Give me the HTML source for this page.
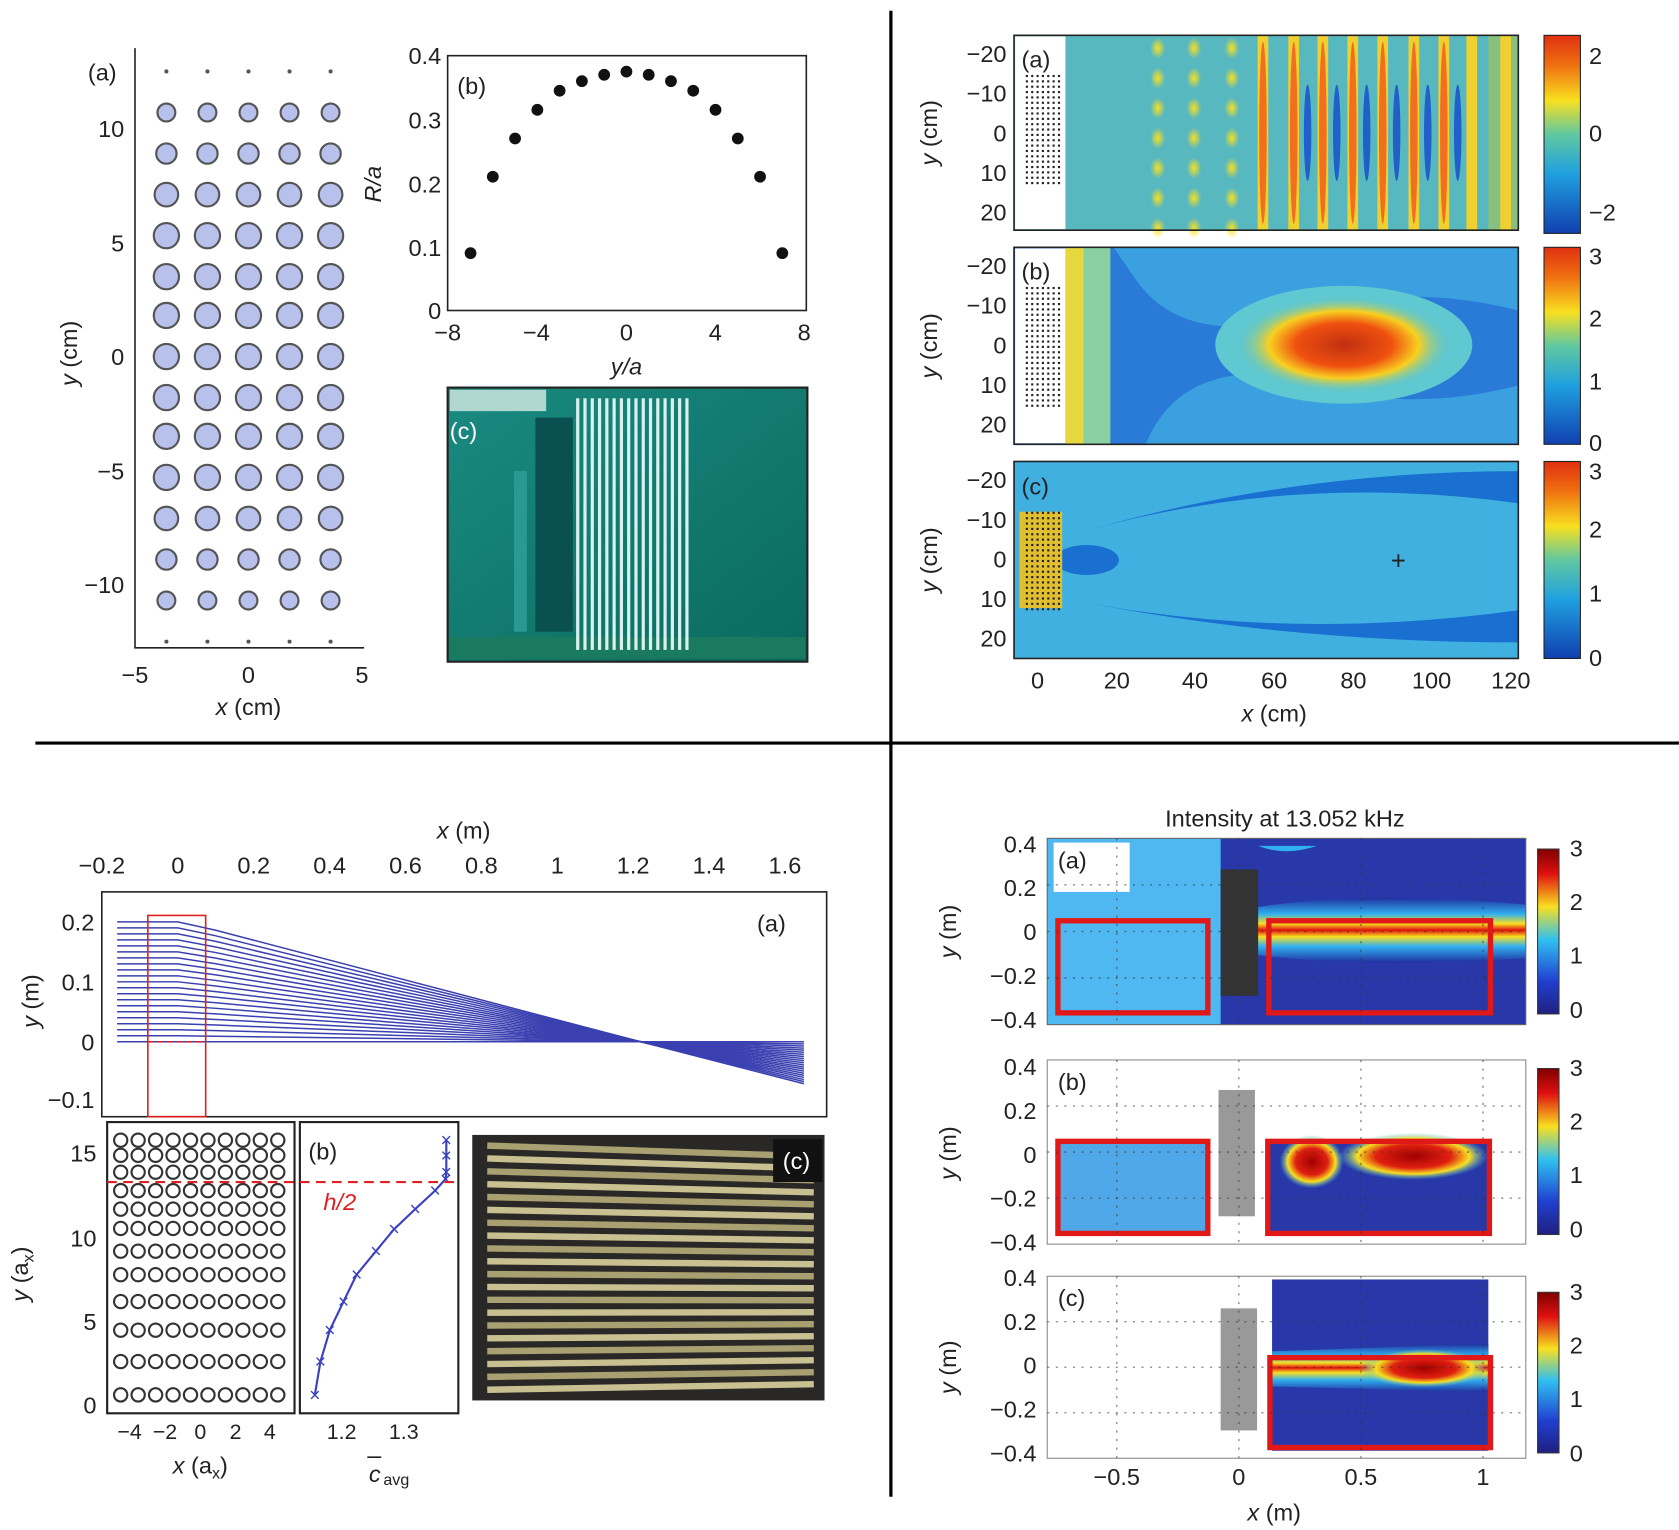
<!DOCTYPE html>
<html><head><meta charset="utf-8"><style>
html,body{margin:0;padding:0;background:#fff}
svg{display:block}
text{font-family:"Liberation Sans",sans-serif;fill:#222}
</style></head><body>
<svg id="fig" width="1679" height="1530" viewBox="0 0 1568 1429" xmlns="http://www.w3.org/2000/svg">
<defs>
<linearGradient id="jet" x1="0" y1="0" x2="0" y2="1">
<stop offset="0" stop-color="#e03010"/><stop offset="0.15" stop-color="#f07010"/><stop offset="0.33" stop-color="#f8e020"/><stop offset="0.5" stop-color="#60c8a0"/><stop offset="0.7" stop-color="#20a0e0"/><stop offset="1" stop-color="#1040b0"/></linearGradient>
<linearGradient id="jet2" x1="0" y1="0" x2="0" y2="1">
<stop offset="0" stop-color="#800000"/><stop offset="0.15" stop-color="#e01010"/><stop offset="0.35" stop-color="#f8e020"/><stop offset="0.55" stop-color="#30c0f0"/><stop offset="0.8" stop-color="#2040d0"/><stop offset="1" stop-color="#202080"/></linearGradient>
<radialGradient id="blob" cx="0.5" cy="0.5" r="0.5"><stop offset="0" stop-color="#c03010"/><stop offset="0.45" stop-color="#f05010"/><stop offset="0.7" stop-color="#f8d020"/><stop offset="1" stop-color="#60c8c0" stop-opacity="0"/></radialGradient>
<linearGradient id="beam" x1="0" y1="0" x2="0" y2="1"><stop offset="0" stop-color="#2030a0"/><stop offset="0.25" stop-color="#30b0f0"/><stop offset="0.4" stop-color="#f8e020"/><stop offset="0.5" stop-color="#e01010"/><stop offset="0.6" stop-color="#f8e020"/><stop offset="0.75" stop-color="#30b0f0"/><stop offset="1" stop-color="#2030a0"/></linearGradient>
<radialGradient id="redblob" cx="0.5" cy="0.5" r="0.5"><stop offset="0" stop-color="#a00000"/><stop offset="0.5" stop-color="#e02010"/><stop offset="0.75" stop-color="#f8e020"/><stop offset="1" stop-color="#40c0f0" stop-opacity="0"/></radialGradient>
<radialGradient id="ydot" cx="0.5" cy="0.5" r="0.5"><stop offset="0" stop-color="#f8e020"/><stop offset="1" stop-color="#f8e020" stop-opacity="0"/></radialGradient>
<linearGradient id="teal" x1="0" y1="0" x2="1" y2="1"><stop offset="0" stop-color="#1a8a80"/><stop offset="1" stop-color="#0a6a60"/></linearGradient>
</defs>

<!-- dividers -->
<line x1="832" y1="10" x2="832" y2="1398" stroke="#000" stroke-width="3"/>
<line x1="33" y1="694" x2="1568" y2="694" stroke="#000" stroke-width="3"/>

<!-- TL (a) -->
<g id="tla">
<polyline points="126,45 126,605 340,605" fill="none" stroke="#222" stroke-width="1.5"/>
<text x="82" y="75" font-size="22">(a)</text>
<g font-size="22" text-anchor="end">
<text x="116" y="128">10</text><text x="116" y="235">5</text><text x="116" y="341">0</text><text x="116" y="448">−5</text><text x="116" y="554">−10</text></g>
<g font-size="22" text-anchor="middle"><text x="126" y="638">−5</text><text x="232" y="638">0</text><text x="338" y="638">5</text></g>
<text x="232" y="668" font-size="22" text-anchor="middle"><tspan font-style="italic">x</tspan> (cm)</text>
<text transform="translate(72,330) rotate(-90)" font-size="22" text-anchor="middle"><tspan font-style="italic">y</tspan> (cm)</text>
</g>

<!-- TL (b) -->
<g id="tlb">
<rect x="418" y="52" width="335" height="238" fill="none" stroke="#222" stroke-width="1.5"/>
<text x="427" y="88" font-size="22">(b)</text>
<g font-size="22" text-anchor="end"><text x="412" y="60">0.4</text><text x="412" y="120">0.3</text><text x="412" y="180">0.2</text><text x="412" y="239">0.1</text><text x="412" y="298">0</text></g>
<g font-size="22" text-anchor="middle"><text x="418" y="318">−8</text><text x="501" y="318">−4</text><text x="585" y="318">0</text><text x="668" y="318">4</text><text x="751" y="318">8</text></g>
<text x="585" y="350" font-size="22" text-anchor="middle" font-style="italic">y/a</text>
<text transform="translate(356,172) rotate(-90)" font-size="22" text-anchor="middle" font-style="italic">R/a</text>
</g>

<!-- TL (c) photo -->
<g>
<rect x="418" y="362" width="336" height="256" fill="url(#teal)" stroke="#222" stroke-width="2"/>
<rect x="420" y="364" width="90" height="20" fill="#b0d8d0"/>
<rect x="500" y="390" width="35" height="200" fill="#0a5050"/>
<rect x="480" y="440" width="12" height="150" fill="#2a9a90"/>
<rect x="420" y="595" width="332" height="20" fill="#1a7a60"/>
<g id="rods"></g>
<text x="420" y="410" font-size="22" fill="#fff" style="fill:#fff">(c)</text>
</g>

<!-- TR heatmaps -->
<g>
<rect x="947" y="33" width="471" height="182" fill="#58b8c0"/>
<rect x="1390" y="33" width="28" height="182" fill="#88c080"/>
<g id="stripesA"></g>
<rect x="948" y="34" width="47" height="180" fill="#fff"/>
<g id="dotsA"></g>
<rect x="947" y="33" width="471" height="182" fill="none" stroke="#222" stroke-width="1.5"/>
<text x="954" y="63" font-size="22">(a)</text>
<rect x="1442" y="33" width="34" height="185" fill="url(#jet)" stroke="#222"/>
<g font-size="22"><text x="1484" y="60">2</text><text x="1484" y="132">0</text><text x="1484" y="206">−2</text></g>
</g>
<g>
<rect x="947" y="231" width="471" height="184" fill="#2a7ad8"/>
<path d="M1040,231 L1418,231 L1418,290 Q1300,260 1200,300 Q1100,320 1060,260 Z" fill="#3aa0e0"/>
<path d="M1100,415 L1418,415 L1418,360 Q1300,390 1200,350 Q1100,340 1070,415 Z" fill="#3aa0e0"/>
<ellipse cx="1255" cy="322" rx="120" ry="55" fill="#60c8d0"/>
<ellipse cx="1255" cy="322" rx="100" ry="45" fill="url(#blob)"/>
<rect x="995" y="231" width="32" height="184" fill="#e8d840"/>
<rect x="1012" y="231" width="25" height="184" fill="#8ad0a0"/>
<rect x="948" y="232" width="47" height="182" fill="#fff"/>
<g id="dotsB"></g>
<rect x="947" y="231" width="471" height="184" fill="none" stroke="#222" stroke-width="1.5"/>
<text x="954" y="261" font-size="22">(b)</text>
<rect x="1442" y="231" width="34" height="184" fill="url(#jet)" stroke="#222"/>
<g font-size="22"><text x="1484" y="247">3</text><text x="1484" y="305">2</text><text x="1484" y="364">1</text><text x="1484" y="421">0</text></g>
</g>
<g>
<rect x="947" y="431" width="471" height="184" fill="#40b0e0"/>
<path d="M1000,500 Q1200,440 1418,470 L1418,440 Q1200,440 1000,500Z" fill="#1a70d0"/>
<path d="M1000,560 Q1200,600 1418,570 L1418,600 Q1200,600 1000,560Z" fill="#1a70d0"/>
<ellipse cx="1015" cy="523" rx="30" ry="14" fill="#1a70d0"/>
<rect x="952" y="478" width="40" height="90" fill="#e0c030"/>
<g id="dotsC"></g>
<rect x="947" y="431" width="471" height="184" fill="none" stroke="#222" stroke-width="1.5"/>
<text x="954" y="462" font-size="22">(c)</text>
<text x="1306" y="532" font-size="24" text-anchor="middle">+</text>
<rect x="1442" y="431" width="34" height="184" fill="url(#jet)" stroke="#222"/>
<g font-size="22"><text x="1484" y="448">3</text><text x="1484" y="502">2</text><text x="1484" y="562">1</text><text x="1484" y="622">0</text></g>
</g>
<g>
<g font-size="22" text-anchor="end" id="trY"></g>
<g font-size="22" text-anchor="middle"><text x="969" y="643">0</text><text x="1043" y="643">20</text><text x="1116" y="643">40</text><text x="1190" y="643">60</text><text x="1264" y="643">80</text><text x="1337" y="643">100</text><text x="1411" y="643">120</text></g>
<text x="1190" y="674" font-size="22" text-anchor="middle"><tspan font-style="italic">x</tspan> (cm)</text>
<text transform="translate(875,124) rotate(-90)" font-size="22" text-anchor="middle"><tspan font-style="italic">y</tspan> (cm)</text>
<text transform="translate(875,323) rotate(-90)" font-size="22" text-anchor="middle"><tspan font-style="italic">y</tspan> (cm)</text>
<text transform="translate(875,523) rotate(-90)" font-size="22" text-anchor="middle"><tspan font-style="italic">y</tspan> (cm)</text>
</g>

<!-- BL (a) -->
<g id="bla">
<rect x="95" y="833" width="677" height="210" fill="none" stroke="#222" stroke-width="1.5"/>
<g id="rays"></g>
<rect x="138" y="855" width="54" height="188" fill="none" stroke="#e02020" stroke-width="1.5"/>
<line x1="138" y1="973" x2="192" y2="973" stroke="#e02020" stroke-dasharray="5,4" stroke-width="1.5"/>
<text x="707" y="870" font-size="22">(a)</text>
<text x="433" y="783" font-size="22" text-anchor="middle"><tspan font-style="italic">x</tspan> (m)</text>
<g font-size="22" text-anchor="middle" id="blaX"></g>
<g font-size="22" text-anchor="end"><text x="88" y="869">0.2</text><text x="88" y="925">0.1</text><text x="88" y="981">0</text><text x="88" y="1035">−0.1</text></g>
<text transform="translate(36,935) rotate(-90)" font-size="22" text-anchor="middle"><tspan font-style="italic">y</tspan> (m)</text>
</g>

<!-- BL (b) -->
<g>
<rect x="100" y="1048" width="175" height="272" fill="none" stroke="#222" stroke-width="2"/>
<g id="gridCircles"></g>
<g font-size="22" text-anchor="end"><text x="90" y="1085">15</text><text x="90" y="1164">10</text><text x="90" y="1242">5</text><text x="90" y="1320">0</text></g>
<g font-size="20" text-anchor="middle"><text x="121" y="1344">−4</text><text x="154" y="1344">−2</text><text x="187" y="1344">0</text><text x="220" y="1344">2</text><text x="252" y="1344">4</text></g>
<text x="187" y="1376" font-size="22" text-anchor="middle"><tspan font-style="italic">x</tspan> (a<tspan font-size="15" dy="5">x</tspan><tspan dy="-5">)</tspan></text>
<text transform="translate(26,1190) rotate(-90)" font-size="22" text-anchor="middle"><tspan font-style="italic">y</tspan> (a<tspan font-size="15" dy="5">x</tspan><tspan dy="-5">)</tspan></text>
</g>
<g>
<rect x="280" y="1048" width="148" height="272" fill="none" stroke="#222" stroke-width="2"/>
<g id="cavg"></g>
<line x1="100" y1="1104" x2="428" y2="1104" stroke="#e02020" stroke-width="2" stroke-dasharray="9,6"/>
<text x="288" y="1083" font-size="22">(b)</text>
<text x="302" y="1130" font-size="22" style="fill:#e02020" font-style="italic">h/2</text>
<g font-size="20" text-anchor="middle"><text x="319" y="1344">1.2</text><text x="377" y="1344">1.3</text></g>
<text x="350" y="1384" font-size="22" text-anchor="middle" font-style="italic">c</text>
<line x1="343" y1="1361" x2="356" y2="1361" stroke="#222" stroke-width="1.5"/>
<text x="358" y="1387" font-size="15">avg</text>
</g>
<g>
<rect x="441" y="1060" width="329" height="248" fill="#2a2826"/>
<g id="tubes"></g>
<rect x="722" y="1064" width="46" height="40" fill="#111"/>
<text x="731" y="1092" font-size="22" style="fill:#fff">(c)</text>
</g>

<!-- BR -->
<text x="1200" y="772" font-size="22" text-anchor="middle">Intensity at 13.052 kHz</text>
<g>
<rect x="978" y="783" width="447" height="174" fill="#2838a8"/>
<rect x="978" y="783" width="162" height="174" fill="#50b8f0"/>
<path d="M1175,790 Q1200,800 1230,790 L1175,790Z" fill="#30b0f0"/>
<path d="M1160,850 Q1260,830 1425,845 L1425,895 Q1260,905 1160,890Z" fill="url(#beam)"/>
<rect x="1140" y="812" width="35" height="118" fill="#333"/>
<rect x="984" y="787" width="71" height="46" fill="#fff"/>
<text x="988" y="811" font-size="22">(a)</text>
<rect x="988" y="860" width="140" height="86" fill="none" stroke="#e01818" stroke-width="5"/>
<rect x="1185" y="860" width="207" height="86" fill="none" stroke="#e01818" stroke-width="5"/>
<rect x="978" y="783" width="447" height="174" fill="none" stroke="#666" stroke-width="1"/>
</g>
<g>
<rect x="978" y="990" width="447" height="172" fill="#fff" stroke="#888"/>
<rect x="988" y="1066" width="140" height="86" fill="#50a8e8"/>
<rect x="1138" y="1018" width="34" height="118" fill="#999"/>
<rect x="1184" y="1066" width="207" height="86" fill="#2838a8"/>
<ellipse cx="1320" cy="1080" rx="70" ry="22" fill="url(#redblob)"/>
<ellipse cx="1225" cy="1085" rx="30" ry="25" fill="url(#redblob)"/>
<rect x="988" y="1066" width="140" height="86" fill="none" stroke="#e01818" stroke-width="5"/>
<rect x="1184" y="1066" width="207" height="86" fill="none" stroke="#e01818" stroke-width="5"/>
<text x="988" y="1018" font-size="22">(b)</text>
</g>
<g>
<rect x="978" y="1192" width="447" height="170" fill="#fff" stroke="#888"/>
<rect x="1188" y="1195" width="202" height="160" fill="#2838a8"/>
<path d="M1188,1262 L1390,1255 L1390,1300 L1188,1295Z" fill="url(#beam)"/>
<ellipse cx="1330" cy="1278" rx="60" ry="18" fill="url(#redblob)"/>
<rect x="1140" y="1222" width="34" height="114" fill="#999"/>
<rect x="1186" y="1268" width="206" height="84" fill="none" stroke="#e01818" stroke-width="5"/>
<text x="988" y="1220" font-size="22">(c)</text>
</g>
<g id="brGrid"></g>
<g>
<g font-size="22" text-anchor="end" id="brY"></g>
<g font-size="22" text-anchor="middle"><text x="1043" y="1387">−0.5</text><text x="1157" y="1387">0</text><text x="1271" y="1387">0.5</text><text x="1385" y="1387">1</text></g>
<text x="1190" y="1420" font-size="22" text-anchor="middle"><tspan font-style="italic">x</tspan> (m)</text>
<text transform="translate(893,870) rotate(-90)" font-size="22" text-anchor="middle"><tspan font-style="italic">y</tspan> (m)</text>
<text transform="translate(893,1077) rotate(-90)" font-size="22" text-anchor="middle"><tspan font-style="italic">y</tspan> (m)</text>
<text transform="translate(893,1277) rotate(-90)" font-size="22" text-anchor="middle"><tspan font-style="italic">y</tspan> (m)</text>
<rect x="1436" y="793" width="20" height="154" fill="url(#jet2)" stroke="#333"/>
<rect x="1436" y="998" width="20" height="155" fill="url(#jet2)" stroke="#333"/>
<rect x="1436" y="1207" width="20" height="150" fill="url(#jet2)" stroke="#333"/>
<g font-size="22"><text x="1466" y="800">3</text><text x="1466" y="850">2</text><text x="1466" y="900">1</text><text x="1466" y="951">0</text>
<text x="1466" y="1005">3</text><text x="1466" y="1055">2</text><text x="1466" y="1105">1</text><text x="1466" y="1156">0</text>
<text x="1466" y="1214">3</text><text x="1466" y="1264">2</text><text x="1466" y="1314">1</text><text x="1466" y="1365">0</text></g>
</g>
</svg>
<script>
// ---- data ----
const radiusYa = [-7,-6,-5,-4,-3,-2,-1,0,1,2,3,4,5,6,7];
const radiusRa = [0.09,0.21,0.27,0.315,0.345,0.36,0.37,0.375,0.37,0.36,0.345,0.315,0.27,0.21,0.09];
const latticeXcm = [-3.6,-1.8,0,1.8,3.6];
const latticeYcm = [12.5,10.7,8.9,7.1,5.3,3.5,1.8,0,-1.8,-3.5,-5.3,-7.1,-8.9,-10.7,-12.5];
const latticeR = [0.05,0.22,0.25,0.29,0.31,0.31,0.31,0.31,0.31,0.31,0.31,0.29,0.25,0.22,0.05];
const rayHeights = [0.2,0.19,0.18,0.17,0.16,0.15,0.14,0.13,0.12,0.11,0.10,0.09,0.08,0.07,0.06,0.05,0.04,0.03,0.02,0.01,0.0];
const rayXTicks = [-0.2,0,0.2,0.4,0.6,0.8,1,1.2,1.4,1.6];
const gridRowsY = [0.65,2.63,4.5,6.2,7.8,9.2,10.55,11.7,12.8,13.9,14.9,15.8];
const gridColsX = [-4.5,-3.5,-2.5,-1.5,-0.5,0.5,1.5,2.5,3.5,4.5];
const cavgValues = [1.157,1.166,1.181,1.203,1.224,1.255,1.284,1.318,1.35,1.367,1.368,1.368,1.368];
const cavgY = [0.65,2.63,4.5,6.2,7.8,9.2,10.5,11.7,12.8,13.5,13.9,14.9,15.8];
const trYTicks = [-20,-10,0,10,20];
const brYTicks = ['0.4','0.2','0','−0.2','−0.4'];
const stripeXcm = [30.5,39.7,49.3,57.2,65,72.4,80,87.6,95.5,103.1,110.2,118.8];
const stripeAmp = [0.6,0.6,0.7,1.2,1.4,1.6,1.8,1.8,1.6,1.4,1.0,0.4];

const NS='http://www.w3.org/2000/svg';
function mk(tag, attrs, parent){const e=document.createElementNS(NS,tag);for(const k in attrs)e.setAttribute(k,attrs[k]);parent.appendChild(e);return e;}
const g=id=>document.getElementById(id);

// TL(a) lattice
const ax=v=>232+v*21.3, ay=v=>333-v*21.3;
latticeYcm.forEach((yv,i)=>latticeXcm.forEach(xv=>{
  const c=mk('circle',{cx:ax(xv),cy:ay(yv),r:latticeR[i]*38,fill:latticeR[i]<0.1?'#555':'#b8c0ec',stroke:'#555','stroke-width':latticeR[i]<0.1?0:2},g('tla'));
  
  
}));
// TL(b) scatter
const bx=v=>585+v*20.8, by=v=>290-v*595;
radiusYa.forEach((v,i)=>{
  const c=mk('circle',{cx:bx(v),cy:by(radiusRa[i]),r:5.5,fill:'#111'},g('tlb'));
  
  
});
// photo rods
for(let i=0;i<16;i++){mk('rect',{x:538+i*6.8,y:372,width:3,height:235,fill:'#d8f0ee'},g('rods'));}
// TR(a) stripes
const tx=v=>969+v*3.68;
stripeXcm.forEach((xc,i)=>{
  const x=tx(xc), a=stripeAmp[i];
  if(a<1 && i<3){
    for(let y=45;y<215;y+=28) mk('ellipse',{cx:x,cy:y,rx:7,ry:10,fill:'url(#ydot)'},g('stripesA'));
  } else {
    mk('rect',{x:x-5,y:33,width:10,height:182,fill:'#f0d030'},g('stripesA'));
    if(a>1) mk('ellipse',{cx:x,cy:124,rx:3.5,ry:85,fill:'#f07020'},g('stripesA'));
    if(a>1.3) mk('ellipse',{cx:x+13,cy:124,rx:3.5,ry:45,fill:'#2060c8'},g('stripesA'));
  }
});
[['dotsA',70,170],['dotsB',268,378],['dotsC',478,568]].forEach(([id,y0,y1])=>{
  for(let x=958;x<=990;x+=5)for(let y=y0;y<=y1;y+=5)mk('rect',{x:x,y:y,width:2,height:2,fill:'#222'},g(id));
});
// TR y labels
[50,248,448].forEach(top=>trYTicks.forEach((t,i)=>{
  const e=mk('text',{x:940,y:top+i*37+8},g('trY'));e.textContent=t===0?'0':(t<0?'−'+(-t):t);
}));
// BL(a) rays
const rx=v=>166+v*354.4, ry=v=>973-v*560;
rayXTicks.forEach(t=>{const e=mk('text',{x:rx(t),y:816},g('blaX'));e.textContent=(t<0?'−':'')+String(Math.abs(t));});
rayHeights.forEach(h=>{
  const pts=[[-0.16,h],[0,h],[0.1,h*0.93],[1.22,0],[1.65,-h*0.35]];
  const p=mk('polyline',{points:pts.map(q=>rx(q[0])+','+ry(q[1])).join(' '),fill:'none',stroke:'#3a40b0','stroke-width':1.4},g('rays'));
  
  
});
// BL(b) circles
const gx=v=>186+v*16.3, gy=v=>1313-v*15.7;
gridRowsY.forEach(yv=>gridColsX.forEach(xv=>{
  mk('circle',{cx:gx(xv),cy:gy(yv),r:6.2,fill:'none',stroke:'#333','stroke-width':2},g('gridCircles'));
}));
// cavg
const cx=v=>319+(v-1.2)*582;
const line=mk('polyline',{points:cavgValues.map((v,i)=>cx(v)+','+gy(cavgY[i])).join(' '),fill:'none',stroke:'#3a40c0','stroke-width':2},g('cavg'));


cavgValues.forEach((v,i)=>{mk('text',{x:cx(v),y:gy(cavgY[i])+6,'font-size':18,'text-anchor':'middle',style:'fill:#3a40c0'},g('cavg')).textContent='×';});
// tubes photo
for(let i=0;i<20;i++){mk('line',{x1:455,y1:1070+i*12,x2:760,y2:1080+i*11.2,stroke:i%2?'#c8c090':'#a8a070','stroke-width':6},g('tubes'));}
// BR y labels + dotted grid
[788,996,1193].forEach(top=>brYTicks.forEach((t,i)=>{
  const e=mk('text',{x:968,y:top+i*41+8},g('brY'));e.textContent=t;
}));
[[783,957],[990,1162],[1192,1362]].forEach(([t,b])=>{
  [1043,1157,1271,1385].forEach(x=>mk('line',{x1:x,y1:t,x2:x,y2:b,stroke:'#333','stroke-dasharray':'2,6','stroke-width':1.2,opacity:0.6},g('brGrid')));
  [0.25,0.5,0.75].forEach(f=>mk('line',{x1:978,y1:t+(b-t)*f,x2:1425,y2:t+(b-t)*f,stroke:'#333','stroke-dasharray':'2,6','stroke-width':1.2,opacity:0.6},g('brGrid')));
});
</script>
</body></html>
